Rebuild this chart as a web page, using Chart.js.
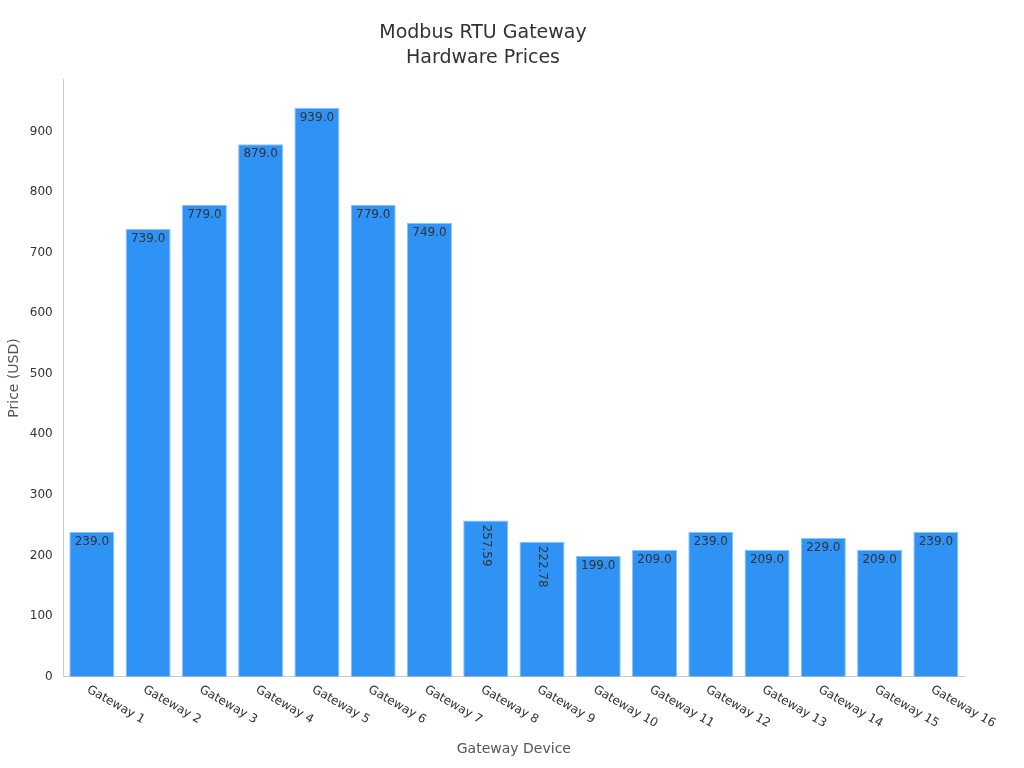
<!DOCTYPE html>
<html>
<head>
<meta charset="utf-8">
<script src="https://cdn.jsdelivr.net/npm/chart.js@4"></script>
<style>
  html, body { margin: 0; padding: 0; background: #fff; }
  #wrap { width: 1024px; height: 768px; }
</style>
</head>
<body>
<div id="wrap"><canvas id="priceChart"></canvas></div>
<script>
const categories = ['Gateway 1','Gateway 2','Gateway 3','Gateway 4','Gateway 5','Gateway 6','Gateway 7','Gateway 8',
  'Gateway 9','Gateway 10','Gateway 11','Gateway 12','Gateway 13','Gateway 14','Gateway 15','Gateway 16'];
const prices = [239, 739, 779, 879, 939, 779, 749, 257.59, 222.78, 199, 209, 239, 209, 229, 209, 239];
const valueLabels = ['239.0','739.0','779.0','879.0','939.0','779.0','749.0','257.59','222.78','199.0','209.0','239.0','209.0','229.0','209.0','239.0'];

const FONT = 'DejaVu Sans, sans-serif';

// value labels inside bar tops, long ones vertical; x tick labels slanted down-right
const customText = {
  id: 'customText',
  afterDatasetsDraw(chart) {
    const ctx = chart.ctx;
    const meta = chart.getDatasetMeta(0);
    ctx.save();
    ctx.fillStyle = '#333';
    ctx.font = '12px ' + FONT;
    meta.data.forEach((bar, i) => {
      const txt = valueLabels[i];
      if (txt.length > 5) {
        ctx.save();
        ctx.translate(bar.x, bar.y + 4);
        ctx.rotate(Math.PI / 2);
        ctx.textAlign = 'left';
        ctx.textBaseline = 'middle';
        ctx.fillText(txt, 0, 0);
        ctx.restore();
      } else {
        ctx.textAlign = 'center';
        ctx.textBaseline = 'top';
        ctx.fillText(txt, bar.x, bar.y + 4);
      }
    });
    const xs = chart.scales.x;
    ctx.font = '12px ' + FONT;
    ctx.fillStyle = '#333';
    categories.forEach((c, i) => {
      const x = xs.getPixelForTick(i);
      ctx.save();
      ctx.translate(x - 4, xs.top + 12);
      ctx.rotate(Math.PI / 6);
      ctx.textAlign = 'left';
      ctx.textBaseline = 'middle';
      ctx.fillText(c, 0, 0);
      ctx.restore();
    });
    ctx.restore();
  }
};

new Chart(document.getElementById('priceChart'), {
  type: 'bar',
  data: {
    labels: categories,
    datasets: [{
      data: prices,
      backgroundColor: '#2f92f5',
      borderColor: '#8cc2f7',
      borderWidth: 1,
      barPercentage: 0.8,
      categoryPercentage: 1.0
    }]
  },
  options: {
    responsive: true,
    maintainAspectRatio: false,
    animation: false,
    layout: { padding: { left: 2, right: 60, top: 10, bottom: 6 } },
    plugins: {
      legend: { display: false },
      tooltip: { enabled: false },
      title: {
        display: true,
        text: ['Modbus RTU Gateway', 'Hardware Prices'],
        color: '#333',
        font: { family: FONT, size: 19, weight: 'normal', lineHeight: 1.35 },
        padding: { top: 10, bottom: 8 }
      }
    },
    scales: {
      x: {
        grid: { display: false, drawTicks: true },
        border: { color: '#ccc' },
        ticks: { color: 'transparent', font: { family: FONT, size: 12 }, minRotation: 30, maxRotation: 30, padding: 2 },
        title: { display: true, text: 'Gateway Device', color: '#555', font: { family: FONT, size: 14 }, padding: { top: 4 } }
      },
      y: {
        min: 0,
        max: 986,
        grid: { display: false },
        border: { color: '#ccc' },
        ticks: { stepSize: 100, color: '#333', font: { family: FONT, size: 12 } },
        afterBuildTicks(scale) { scale.ticks = scale.ticks.filter(t => t.value % 100 === 0); },
        title: { display: true, text: 'Price (USD)', color: '#555', font: { family: FONT, size: 14 } }
      }
    }
  },
  plugins: [customText]
});
</script>
</body>
</html>
